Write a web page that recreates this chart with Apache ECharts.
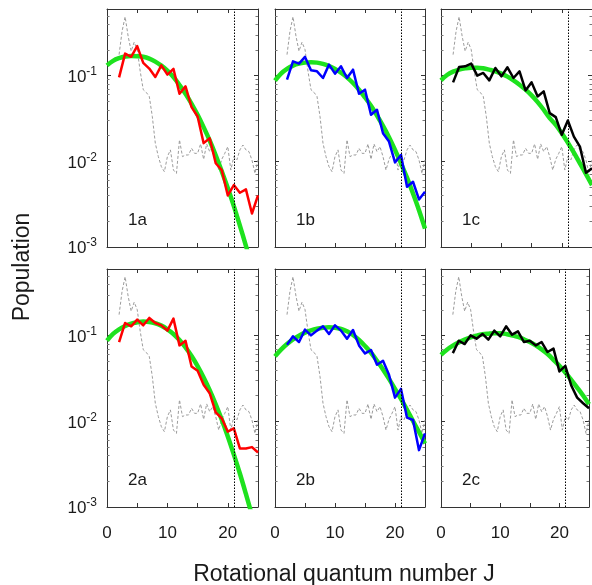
<!DOCTYPE html>
<html><head><meta charset="utf-8">
<script src="https://cdn.jsdelivr.net/npm/echarts@6/dist/echarts.min.js"></script>
<style>html,body{margin:0;padding:0;background:#fff;overflow:hidden}#c{width:592px;height:585px}</style>
</head><body><div id="c"></div>
<script>
// ---------- data ----------
const J = [2,3,4,5,6,7,8,9,10,11,12,13,14,15,16,17,18,19,20,21,22,23,24,25];
const Jfit = [0,1,2,3,4,5,6,7,8,9,10,11,12,13,14,15,16,17,18,19,20,21,22,23,24,25];
const Jref = [2,2.5,3,3.5,4,4.5,5,5.5,6,6.5,7,7.5,8,8.5,9,9.5,10,10.5,11,11.5,12,12.5,13,13.5,14,14.5,15,15.5,16,16.5,17,17.5,18,18.5,19,19.5,20,20.5,21,21.5,22,22.5,23,23.5,24,24.5,25];

// grey dashed reference distribution (same in every panel)
const refDist = [0.176,0.331,0.487,0.289,0.193,0.246,0.2017,0.1124,0.0686,0.0638,0.0572,0.0334,0.01625,0.01135,0.00866,0.00757,0.01135,0.0136,0.00791,0.00723,0.0178,0.01135,0.01186,0.01186,0.0142,0.0124,0.0124,0.01596,0.01055,0.01596,0.01298,0.01485,0.01135,0.00791,0.01055,0.0124,0.01485,0.00791,0.01135,0.01037,0.0136,0.0155,0.0136,0.01298,0.01037,0.00723,0.01037];

// measured populations (J = 2..25)
const red1a   = [0.0955,0.181,0.166,0.221,0.141,0.121,0.0965,0.132,0.103,0.120,0.0615,0.075,0.043,0.0334,0.0163,0.0186,0.0095,0.0079,0.0040,0.00528,0.0043,0.0047,0.00246,0.0040];
const blue1b  = [0.0898,0.147,0.138,0.1655,0.1155,0.1124,0.0939,0.1345,0.1055,0.1285,0.0939,0.1175,0.0615,0.0686,0.0349,0.040,0.0213,0.0170,0.00973,0.01186,0.00505,0.00578,0.00359,0.00441];
const black1c = [0.0835,0.1263,0.1285,0.1383,0.100,0.1075,0.0882,0.123,0.0982,0.1253,0.0939,0.1124,0.0673,0.0835,0.0572,0.0655,0.0365,0.0328,0.0204,0.030,0.01945,0.01485,0.00736,0.00828];
const red2a   = [0.0843,0.1406,0.1285,0.154,0.132,0.161,0.1406,0.132,0.1145,0.158,0.077,0.0873,0.0437,0.0389,0.0267,0.0213,0.01273,0.01084,0.00757,0.00828,0.00483,0.00483,0.0050,0.00433];
const blue2b  = [0.0785,0.0982,0.0843,0.1175,0.1009,0.1145,0.1285,0.1047,0.132,0.1145,0.0922,0.1165,0.077,0.0621,0.0679,0.0457,0.0509,0.0349,0.0189,0.0239,0.01104,0.01037,0.00461,0.00723];
const black2c = [0.0626,0.0873,0.0798,0.1009,0.0922,0.1047,0.0898,0.1145,0.0982,0.1285,0.1027,0.1124,0.0843,0.0873,0.077,0.0843,0.0644,0.0705,0.0382,0.0445,0.0262,0.0189,0.01625,0.0142];

// fitted distributions (J = 0..25)
const fit1a = [0.132,0.149,0.160,0.167,0.170,0.169,0.166,0.158,0.146,0.131,0.1145,0.0965,0.0778,0.0615,0.047,0.0349,0.025,0.0175,0.01175,0.00764,0.00487,0.0030,0.00178,0.00103,0.00059,0.00032];
const fit1b = [0.0874,0.1055,0.1197,0.131,0.1383,0.142,0.1432,0.142,0.137,0.1297,0.1197,0.1084,0.0956,0.082,0.0686,0.0557,0.0445,0.0343,0.0259,0.0191,0.0136,0.00948,0.00644,0.00422,0.00269,0.00164];
const fit1c = [0.0882,0.1018,0.1113,0.1175,0.1219,0.124,0.124,0.1219,0.1175,0.1124,0.1055,0.0974,0.0882,0.0785,0.0686,0.0588,0.0491,0.040,0.0319,0.0267,0.0213,0.01655,0.01264,0.00948,0.0071,0.00528];
const fit2a = [0.0874,0.1047,0.1186,0.1297,0.1383,0.1432,0.146,0.1446,0.1396,0.131,0.1186,0.1047,0.089,0.073,0.0578,0.0441,0.0325,0.0231,0.0158,0.01047,0.00667,0.0041,0.00246,0.00142,0.0008,0.000433];
const fit2b = [0.0573,0.0686,0.0798,0.0906,0.100,0.1084,0.1155,0.1208,0.124,0.1253,0.124,0.1197,0.1124,0.1018,0.089,0.0757,0.0632,0.0509,0.0403,0.0313,0.0239,0.0183,0.0136,0.0101,0.0075,0.00552];
const fit2c = [0.0598,0.0686,0.0764,0.0835,0.0898,0.0955,0.100,0.1037,0.1055,0.1065,0.1065,0.1047,0.1009,0.0965,0.0906,0.0843,0.077,0.0692,0.061,0.0523,0.0445,0.0372,0.0305,0.0248,0.020,0.0158];

const cutoffJ = 21;
const panelNames = ['1a','1b','1c','2a','2b','2c'];
const xTickLabels = [0, 10, 20];
const yTickExponents = [-3, -2, -1];
const xTitle = 'Rotational quantum number J';
const yTitle = 'Population';

// ---------- layout ----------
const colLeft = [107, 275, 441], colWidth = [151, 150, 152];
const rowTop = [9, 269], rowHeight = 238;
const FONT = '"Liberation Sans", Arial, Helvetica, sans-serif';
const TXT = '#1a1a1a';
const AX = '#333';

const panels = [
  {data: red1a,   fit: fit1a, color: '#ff0000'},
  {data: blue1b,  fit: fit1b, color: '#0000ff'},
  {data: black1c, fit: fit1c, color: '#000000'},
  {data: red2a,   fit: fit2a, color: '#ff0000'},
  {data: blue2b,  fit: fit2b, color: '#0000ff'},
  {data: black2c, fit: fit2c, color: '#000000'}
];

const zip = (xs, ys) => xs.map((x, i) => [x, ys[i]]);

const grid = [], xAxis = [], yAxis = [], series = [], graphic = [];

panels.forEach((p, i) => {
  const row = Math.floor(i / 3), col = i % 3;
  grid.push({left: colLeft[col], top: rowTop[row], width: colWidth[col], height: rowHeight, containLabel: false});
  const xBase = {
    type: 'value', gridIndex: i, min: 0, max: 25, interval: 5,
    axisLine: {show: true, onZero: false, lineStyle: {color: AX, width: 1}},
    axisTick: {show: true, inside: true, length: 4, lineStyle: {color: AX}},
    splitLine: {show: false}
  };
  xAxis.push(Object.assign({}, xBase, {
    position: 'bottom',
    axisLabel: {
      show: row === 1, margin: 18, fontSize: 17, color: TXT, fontFamily: FONT,
      formatter: v => xTickLabels.includes(v) ? String(v) : ''
    }
  }));
  xAxis.push(Object.assign({}, xBase, {position: 'top', axisLabel: {show: false}}));

  const yBase = {
    type: 'log', logBase: 10, gridIndex: i, min: 0.001, max: 0.6,
    axisLine: {show: true, onZero: false, lineStyle: {color: AX, width: 1}},
    axisTick: {show: true, inside: true, length: 4, lineStyle: {color: AX}},
    minorTick: {show: true, splitNumber: 9, length: 2.5, lineStyle: {color: '#777'}},
    splitLine: {show: false}, minorSplitLine: {show: false}
  };
  yAxis.push(Object.assign({}, yBase, {
    position: 'left',
    axisLabel: {
      show: col === 0, margin: 10, fontFamily: FONT, color: TXT,
      formatter: v => {
        const e = Math.round(Math.log10(v));
        if (Math.abs(v / Math.pow(10, e) - 1) > 1e-6 || !yTickExponents.includes(e)) return '';
        return '{b|10}{s|' + e + '}';
      },
      rich: {
        b: {fontSize: 17, fontFamily: FONT, color: TXT, lineHeight: 20, verticalAlign: 'bottom'},
        s: {fontSize: 12, fontFamily: FONT, color: TXT, lineHeight: 8, verticalAlign: 'top'}
      }
    }
  }));
  yAxis.push(Object.assign({}, yBase, {position: 'right', axisLabel: {show: false}}));

  const xi = i * 2, yi = i * 2;
  series.push({
    type: 'line', xAxisIndex: xi, yAxisIndex: yi, data: zip(Jref, refDist),
    symbol: 'none', silent: true, z: 2,
    lineStyle: {color: '#9c9c9c', width: 1, type: [3, 2]}
  });
  series.push({
    type: 'line', xAxisIndex: xi, yAxisIndex: yi, data: zip(Jfit, p.fit),
    symbol: 'none', smooth: 0.4, silent: true, z: 3,
    lineStyle: {color: '#1ee21e', width: 4.5}
  });
  series.push({
    type: 'line', xAxisIndex: xi, yAxisIndex: yi, data: zip(J, p.data),
    symbol: 'none', silent: true, z: 4,
    lineStyle: {color: p.color, width: 2.5, join: 'round'},
    markLine: {
      silent: true, symbol: 'none', label: {show: false},
      lineStyle: {color: '#000', type: [1.5, 1.5], width: 1},
      data: [{xAxis: cutoffJ}]
    }
  });

  graphic.push({
    type: 'text', left: colLeft[col] + 21, top: rowTop[row] + rowHeight - 35,
    style: {text: panelNames[i], font: '17px ' + FONT, fill: TXT}
  });
});

graphic.push({
  type: 'text', x: 344, y: 575,
  style: {text: xTitle, font: '23px ' + FONT, fill: TXT, align: 'center', verticalAlign: 'middle'}
});
graphic.push({
  type: 'text', x: 23, y: 267, rotation: Math.PI / 2,
  style: {text: yTitle, font: '23px ' + FONT, fill: TXT, align: 'center', verticalAlign: 'middle'}
});

const chart = echarts.init(document.getElementById('c'), null, {renderer: 'canvas'});
chart.setOption({
  animation: false,
  backgroundColor: '#fff',
  grid, xAxis, yAxis, series, graphic
});
</script></body></html>
